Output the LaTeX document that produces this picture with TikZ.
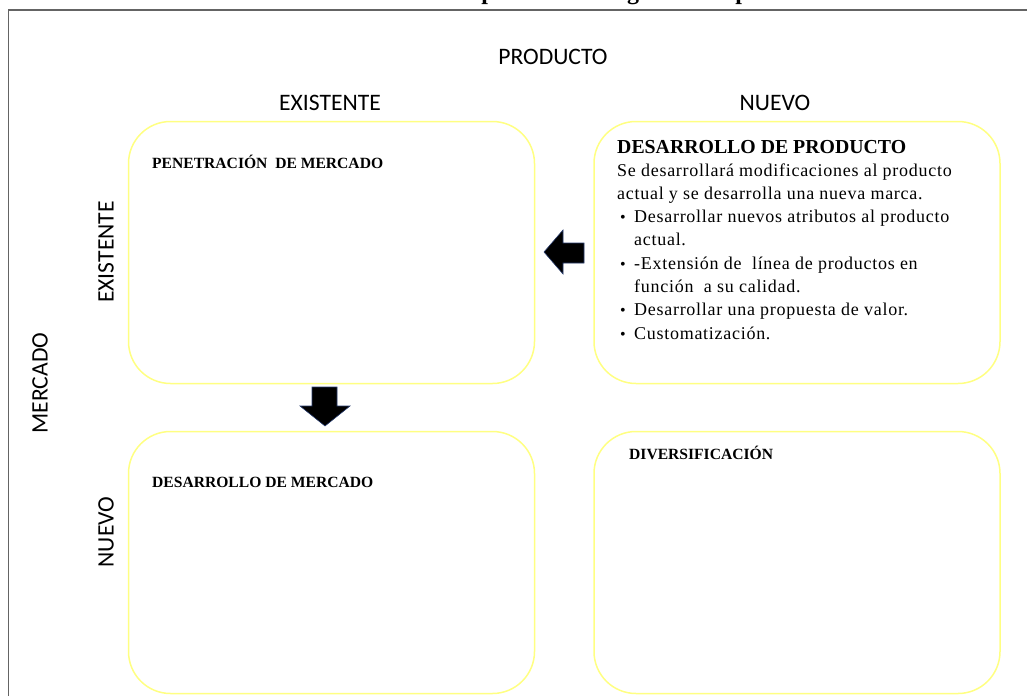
\documentclass[tikz,border=0pt]{standalone}
\usepackage{fontspec}
\setmainfont{Liberation Serif}
\newfontfamily\lblfont{Carlito}
\newfontfamily\bodyfont[LetterSpace=4]{Liberation Serif}
\definecolor{boxyellow}{RGB}{255,255,130}
\definecolor{framegray}{RGB}{100,100,100}
\definecolor{arrowedge}{RGB}{40,60,110}
\begin{document}
\begin{tikzpicture}[x=1pt,y=-1pt,
  quad/.style={draw=boxyellow, line width=1.5pt, rounded corners=42pt, minimum width=406pt, minimum height=262pt, inner sep=0pt},
  axislabel/.style={font=\lblfont\fontsize{23.6}{26}\selectfont, inner sep=0pt},
  head/.style={font=\bfseries\fontsize{15.6}{18}\selectfont, anchor=base west, inner sep=0pt},
  body/.style={font=\bodyfont\fontsize{18}{21}\selectfont, anchor=base west, inner sep=0pt},
  bul/.style={font=\fontsize{16}{21}\selectfont, anchor=base, inner sep=0pt},
  blockarrow/.style={fill=black, draw=arrowedge, line width=0.6pt, line join=miter}]
\useasboundingbox (0,0) rectangle (1027,696);
% cut-off title
\begin{scope}
\clip (0,0) rectangle (1027,9);
\node[font=\bfseries\fontsize{24}{26}\selectfont, anchor=base, inner sep=0pt] (t1) at (488,0) {p};
\node[font=\bfseries\fontsize{24}{26}\selectfont, anchor=base, inner sep=0pt] (t2) at (633,0) {g};
\node[font=\bfseries\fontsize{24}{26}\selectfont, anchor=base, inner sep=0pt] (t3) at (742,0) {p};
\end{scope}
% frame
\draw[framegray, line width=1.5pt] (8.5,696) -- (8.5,10) -- (1027,10);
% quadrants
\node[quad] (q1) at (331.5,252.5) {};
\node[quad] (q2) at (797,252.5) {};
\node[quad] (q3) at (331.5,562.5) {};
\node[quad] (q4) at (797,562.5) {};
% axis labels
\node[axislabel] (prod) at (553,57) {PRODUCTO};
\node[axislabel] (pex) at (330,103) {EXISTENTE};
\node[axislabel] (pnu) at (775,103) {NUEVO};
\node[axislabel, rotate=90] (merc) at (40,383) {MERCADO};
\node[axislabel, rotate=90] (mex) at (106,252) {EXISTENTE};
\node[axislabel, rotate=90] (mnu) at (106,532) {NUEVO};
% quadrant titles
\node[head] (h1) at (152,168) {PENETRACIÓN\ \ DE MERCADO};
\node[head] (h3) at (152,487) {DESARROLLO DE MERCADO};
\node[head] (h4) at (629,459) {DIVERSIFICACIÓN};
\node[head, font=\bfseries\fontsize{19.8}{22}\selectfont] (h2) at (617,153) {DESARROLLO DE PRODUCTO};
\node[body] (d1) at (617,176) {Se desarrollará modificaciones al producto};
\node[body] (d2) at (617,199.3) {actual y se desarrolla una nueva marca.};
\node[bul] (b1) at (623,222.6) {•};
\node[body] (d3) at (634,222.6) {Desarrollar nuevos atributos al producto};
\node[body] (d4) at (634,245.9) {actual.};
\node[bul] (b2) at (623,269.2) {•};
\node[body] (d5) at (634,269.2) {-Extensión de\ \ línea de productos en};
\node[body] (d6) at (634,292.5) {función\ \ a su calidad.};
\node[bul] (b3) at (623,315.8) {•};
\node[body] (d7) at (634,315.8) {Desarrollar una propuesta de valor.};
\node[bul] (b4) at (623,339.1) {•};
\node[body] (d8) at (634,339.1) {Customatización.};
% block arrows
\draw[blockarrow] (544,252) -- (563,230) -- (563,243) -- (584,243) -- (584,263) -- (563,263) -- (563,274) -- cycle;
\draw[blockarrow] (312,387) -- (337,387) -- (337,406) -- (350,406) -- (325,426) -- (300,406) -- (312,406) -- cycle;
\end{tikzpicture}
\end{document}
